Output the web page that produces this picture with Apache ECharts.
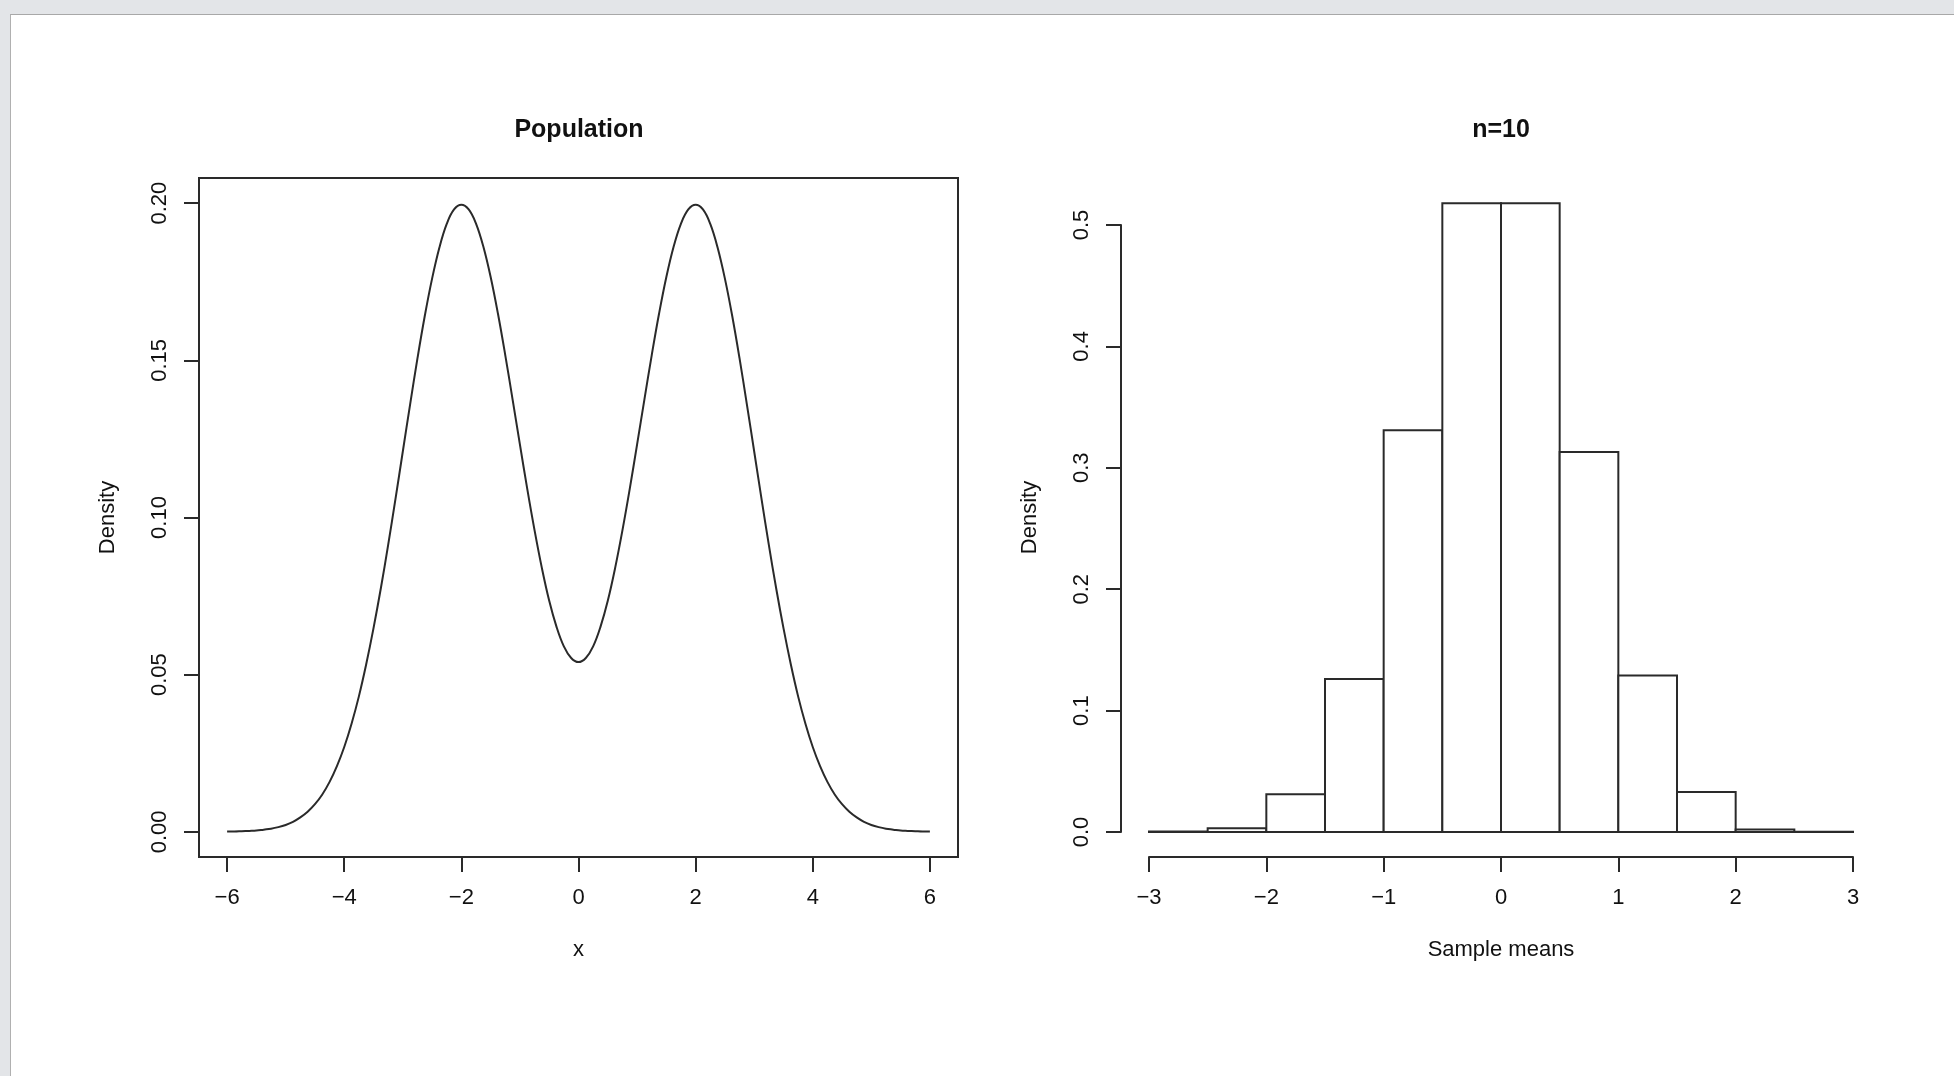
<!DOCTYPE html>
<html><head><meta charset="utf-8">
<script src="https://cdn.jsdelivr.net/npm/echarts@6/dist/echarts.min.js"></script>
<style>
html,body{margin:0;padding:0;width:1954px;height:1076px;overflow:hidden;background:#e3e5e8;}
#panel{position:absolute;left:10px;top:14px;right:0;bottom:0;background:#fff;border-left:1px solid #b0b0b0;border-top:1px solid #a8a8a8;}
#chart{position:absolute;left:0;top:0;width:1954px;height:1076px;}
</style></head><body><div id="panel"></div><div id="chart"></div>
<script>
// ---- Left panel: population density curve ----
const popX = [-6,-5.875,-5.75,-5.625,-5.5,-5.375,-5.25,-5.125,-5,-4.875,-4.75,-4.625,-4.5,-4.375,-4.25,-4.125,
              -4,-3.875,-3.75,-3.625,-3.5,-3.375,-3.25,-3.125,-3,-2.875,-2.75,-2.625,-2.5,-2.375,-2.25,-2.125,
              -2,-1.875,-1.75,-1.625,-1.5,-1.375,-1.25,-1.125,-1,-0.875,-0.75,-0.625,-0.5,-0.375,-0.25,-0.125,
              0,
              0.125,0.25,0.375,0.5,0.625,0.75,0.875,1,1.125,1.25,1.375,1.5,1.625,1.75,1.875,2,
              2.125,2.25,2.375,2.5,2.625,2.75,2.875,3,3.125,3.25,3.375,3.5,3.625,3.75,3.875,4,
              4.125,4.25,4.375,4.5,4.625,4.75,4.875,5,5.125,5.25,5.375,5.5,5.625,5.75,5.875,6];
const popY = [0.0001,0.0001,0.0002,0.0003,0.0004,0.0007,0.0010,0.0015,0.0022,0.0032,0.0046,0.0064,0.0088,0.0119,0.0159,0.0209,
              0.0270,0.0344,0.0431,0.0533,0.0648,0.0775,0.0913,0.1059,0.1210,0.1360,0.1506,0.1641,0.1760,0.1859,0.1934,0.1980,
              0.1995,0.1980,0.1935,0.1862,0.1765,0.1648,0.1516,0.1375,0.1232,0.1091,0.0959,0.0839,0.0735,0.0652,0.0590,0.0553,
              0.0540,
              0.0553,0.0590,0.0652,0.0735,0.0839,0.0959,0.1091,0.1232,0.1375,0.1516,0.1648,0.1765,0.1862,0.1935,0.1980,0.1995,
              0.1980,0.1934,0.1859,0.1760,0.1641,0.1506,0.1360,0.1210,0.1059,0.0913,0.0775,0.0648,0.0533,0.0431,0.0344,0.0270,
              0.0209,0.0159,0.0119,0.0088,0.0064,0.0046,0.0032,0.0022,0.0015,0.0010,0.0007,0.0004,0.0003,0.0002,0.0001,0.0001];
const popXTicks = [-6,-4,-2,0,2,4,6];
const popYTicks = [0,0.05,0.10,0.15,0.20];

// ---- Right panel: histogram of sample means (n=10) ----
const binLeft  = [-3,-2.5,-2,-1.5,-1,-0.5,0,0.5,1,1.5,2,2.5];
const binRight = [-2.5,-2,-1.5,-1,-0.5,0,0.5,1,1.5,2,2.5,3];
const binDensity = [0.0005,0.003,0.031,0.126,0.331,0.518,0.518,0.313,0.129,0.033,0.002,0.0003];
const meanXTicks = [-3,-2,-1,0,1,2,3];
const meanYTicks = [0,0.1,0.2,0.3,0.4,0.5];

const titles = ['Population','n=10'];
const xNames = ['x','Sample means'];
const yName = 'Density';

const FONT = '"Liberation Sans", Arial, Helvetica, sans-serif';
const INK = '#111';
const LINE = '#2a2a2a';
const fmt = d => v => (v < 0 ? '\u2212' : '') + Math.abs(v).toFixed(d);
const txt = (extra) => Object.assign({fontFamily: FONT, fontSize: 22, color: INK}, extra || {});

const chart = echarts.init(document.getElementById('chart'), null, {renderer: 'canvas'});
chart.setOption({
  animation: false,
  backgroundColor: 'transparent',
  title: [
    {text: titles[0], left: 574, top: 113, textAlign: 'center', textStyle: txt({fontSize: 25, fontWeight: 'bold'})},
    {text: titles[1], left: 1496, top: 113, textAlign: 'center', textStyle: txt({fontSize: 25, fontWeight: 'bold'})}
  ],
  grid: [
    {left: 199, top: 178, width: 759, height: 679, show: true, borderColor: LINE, borderWidth: 2, backgroundColor: 'transparent'},
    {left: 1149, top: 225, width: 704, height: 607}
  ],
  xAxis: [
    {gridIndex: 0, type: 'value', min: -6.48, max: 6.48,
     name: xNames[0], nameLocation: 'middle', nameGap: 82, nameTextStyle: txt(),
     axisLine: {show: false, onZero: false},
     axisTick: {show: true, length: 15, customValues: popXTicks, lineStyle: {color: LINE, width: 2}},
     axisLabel: {customValues: popXTicks, formatter: fmt(0), margin: 30, ...txt()},
     splitLine: {show: false}},
    {gridIndex: 1, type: 'value', min: -3, max: 3, interval: 1, offset: 25,
     name: xNames[1], nameLocation: 'middle', nameGap: 82, nameTextStyle: txt(),
     axisLine: {show: true, onZero: false, lineStyle: {color: LINE, width: 2}},
     axisTick: {show: true, length: 15, customValues: meanXTicks, lineStyle: {color: LINE, width: 2}},
     axisLabel: {customValues: meanXTicks, formatter: fmt(0), margin: 30, ...txt()},
     splitLine: {show: false}}
  ],
  yAxis: [
    {gridIndex: 0, type: 'value', min: -0.008, max: 0.208,
     name: yName, nameLocation: 'middle', nameGap: 80, nameRotate: 90, nameTextStyle: txt(),
     axisLine: {show: false, onZero: false},
     axisTick: {show: true, length: 15, customValues: popYTicks, lineStyle: {color: LINE, width: 2}},
     axisLabel: {customValues: popYTicks, formatter: fmt(2), rotate: 90, margin: 28, ...txt()},
     splitLine: {show: false}},
    {gridIndex: 1, type: 'value', min: 0, max: 0.5, interval: 0.1, offset: 28,
     name: yName, nameLocation: 'middle', nameGap: 80, nameRotate: 90, nameTextStyle: txt({padding: [0, 0, 0, 22]}),
     axisLine: {show: true, onZero: false, lineStyle: {color: LINE, width: 2}},
     axisTick: {show: true, length: 15, customValues: meanYTicks, lineStyle: {color: LINE, width: 2}},
     axisLabel: {customValues: meanYTicks, formatter: fmt(1), rotate: 90, margin: 28, ...txt()},
     splitLine: {show: false}}
  ],
  series: [
    {type: 'line', xAxisIndex: 0, yAxisIndex: 0, data: popX.map((x, i) => [x, popY[i]]),
     symbol: 'none', smooth: 0.4, lineStyle: {color: LINE, width: 2}},
    {type: 'custom', xAxisIndex: 1, yAxisIndex: 1, clip: false,
     data: binLeft.map((l, i) => [l, binRight[i], binDensity[i]]),
     encode: {x: [0, 1], y: 2},
     renderItem: function (params, api) {
       const p0 = api.coord([api.value(0), api.value(2)]);
       const p1 = api.coord([api.value(1), 0]);
       return {type: 'rect',
         shape: {x: p0[0], y: p0[1], width: p1[0] - p0[0], height: p1[1] - p0[1]},
         style: {fill: '#fff', stroke: LINE, lineWidth: 2}};
     }}
  ]
});
</script></body></html>
